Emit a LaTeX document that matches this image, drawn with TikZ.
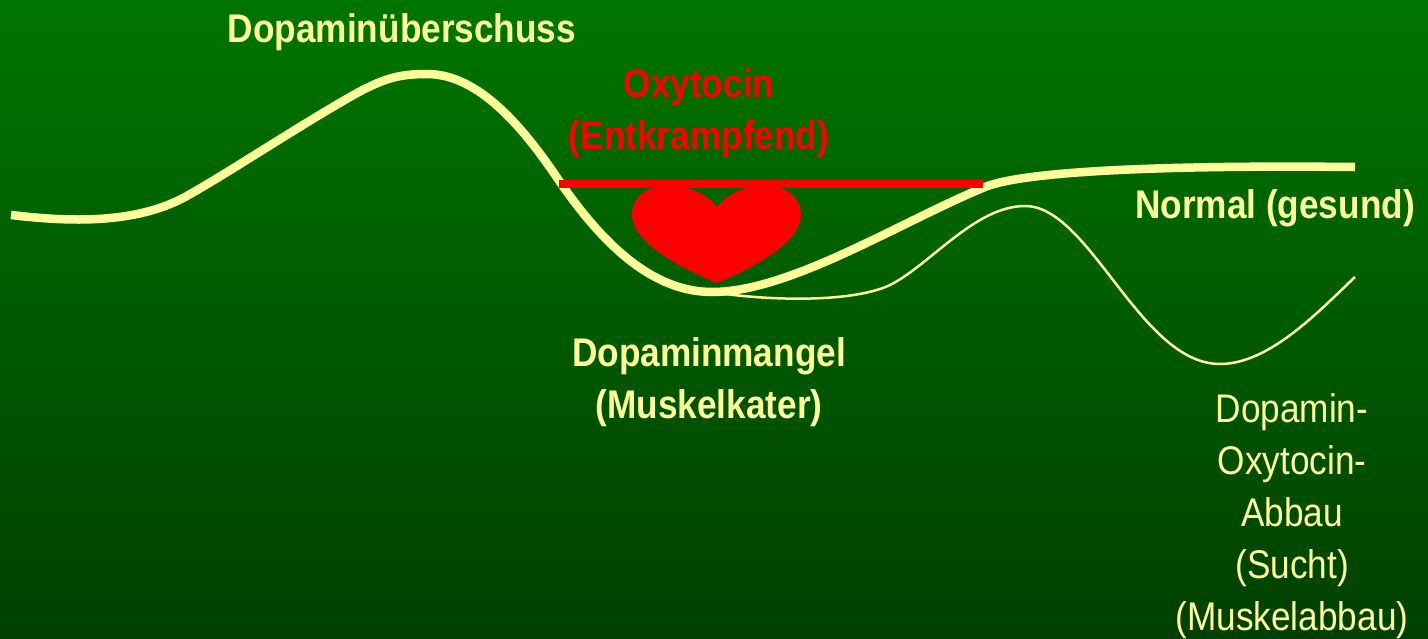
\documentclass[tikz,border=0pt]{standalone}
\usepackage{fontspec}
\setmainfont{Liberation Sans}
\newfontfamily\narrowsans[FakeStretch=0.88]{Liberation Sans}
\usetikzlibrary{positioning}
\definecolor{DopaYellow}{HTML}{FFFF99}
\definecolor{GreenTop}{HTML}{007500}
\definecolor{GreenBottom}{HTML}{004000}

\begin{document}
\begin{tikzpicture}[x=1pt,y=-1pt,
    every node/.style={inner sep=0pt,text=DopaYellow,align=center,font=\narrowsans\fontsize{40}{52}\selectfont},
    boldlabel/.style={font=\narrowsans\bfseries\fontsize{40}{52}\selectfont},
    redlabel/.style={boldlabel,text=red}]
        \useasboundingbox (0,0) rectangle (1428,638);
        \shade[top color=GreenTop,bottom color=GreenBottom] (0,0) rectangle (1428,638);
        % Kurven
        \draw[DopaYellow,line width=2.5pt] (712,292) .. controls (760,300) and (850,304) .. (890,285)
            .. controls (930,265) and (975,206) .. (1025,206)
            .. controls (1090,206) and (1140,364) .. (1220,364)
            .. controls (1270,364) and (1320,310) .. (1355,277);
        \draw[DopaYellow,line width=8.5pt] (11,215) .. controls (70,222) and (135,224) .. (185,197)
            .. controls (225,175) and (300,125) .. (357,93)
            .. controls (385,78) and (400,74) .. (427,74)
            .. controls (480,74) and (525,130) .. (560,182)
            .. controls (600,240) and (650,292) .. (712,292)
            .. controls (790,292) and (900,222) .. (985,187)
            .. controls (1025,170.7) and (1170,165) .. (1355,167);
        % Herz
        \fill[red] (717,207) .. controls (700,186) and (675,186) .. (668,186)
            .. controls (645,186) and (632,198) .. (632,215)
            .. controls (632,245) and (690,272) .. (717,283)
            .. controls (744,272) and (801,245) .. (801,215)
            .. controls (801,198) and (788,186) .. (765,186)
            .. controls (758,186) and (734,186) .. (717,207) -- cycle;
        \fill[red] (559,179.5) rectangle (983,188);
        \node[boldlabel] (excess) at (402,32) {Dopaminüberschuss};
        \node[redlabel] (oxytocin) at (699,113) {Oxytocin\\(Entkrampfend)};
        \node[boldlabel] (normal) at (1275,208) {Normal (gesund)};
        \node[boldlabel] (lack) at (709,382) {Dopaminmangel\\(Muskelkater)};
        \node (decay) at (1292,516) {Dopamin-\\Oxytocin-\\Abbau\\(Sucht)\\(Muskelabbau)};
      \end{tikzpicture}
\end{document}
